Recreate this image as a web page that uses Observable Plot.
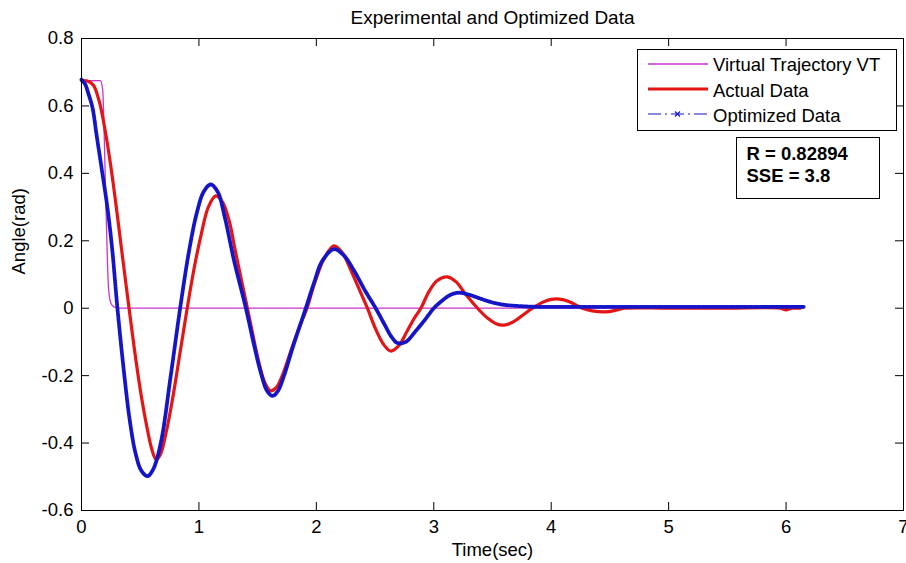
<!DOCTYPE html>
<html>
<head>
<meta charset="utf-8">
<script src="https://cdn.jsdelivr.net/npm/d3@7"></script>
<script src="https://cdn.jsdelivr.net/npm/@observablehq/plot@0.6"></script>
<style>
  html, body { margin: 0; padding: 0; background: #ffffff; }
  #chart { width: 906px; height: 563px; }
</style>
</head>
<body>
<div id="chart"></div>
<script>
// ---- Data ----
const titleText = "Experimental and Optimized Data";
const xLabel = "Time(sec)";
const yLabel = "Angle(rad)";
const xTicks = [0, 1, 2, 3, 4, 5, 6, 7];
const yTicks = [-0.6, -0.4, -0.2, 0, 0.2, 0.4, 0.6, 0.8];
const seriesNames = ["Virtual Trajectory VT", "Actual Data", "Optimized Data"];
const statLines = ["R = 0.82894", "SSE = 3.8"];

const vtTime  = [0, 0.16, 0.18, 0.19, 0.20, 0.21, 0.22, 0.23, 0.25, 0.28, 0.32, 6.15];
const vtAngle = [0.675, 0.675, 0.65, 0.56, 0.42, 0.28, 0.15, 0.06, 0.015, 0.003, 0, 0];

const actTime  = [0, 0.05, 0.1, 0.15, 0.2, 0.25, 0.3, 0.35, 0.405, 0.45, 0.5, 0.55, 0.6, 0.635, 0.67, 0.72, 0.78, 0.84, 0.9, 0.96,
                  1.02, 1.08, 1.143, 1.2, 1.257, 1.31, 1.37, 1.413, 1.46, 1.51, 1.56, 1.61, 1.66, 1.71, 1.78, 1.85, 1.92, 1.99,
                  2.07, 2.15, 2.22, 2.3, 2.37, 2.435, 2.5, 2.57, 2.633, 2.7, 2.77, 2.83, 2.89, 2.96, 3.03, 3.115, 3.19, 3.27,
                  3.38, 3.46, 3.53, 3.6, 3.68, 3.76, 3.84, 3.93, 4.0, 4.07, 4.15, 4.265, 4.35, 4.46, 4.55, 4.62, 5.0, 5.5,
                  5.95, 6.0, 6.05, 6.12];
const actAngle = [0.675, 0.674, 0.662, 0.615, 0.53, 0.42, 0.29, 0.15, 0.0, -0.12, -0.24, -0.34, -0.42, -0.448, -0.435, -0.37, -0.26, -0.13, 0.0, 0.12,
                  0.22, 0.3, 0.333, 0.315, 0.26, 0.17, 0.07, 0.0, -0.08, -0.16, -0.22, -0.245, -0.235, -0.2, -0.13, -0.06, 0.0, 0.08,
                  0.15, 0.185, 0.165, 0.108, 0.052, 0.0, -0.058, -0.106, -0.127, -0.112, -0.07, -0.032, 0.0, 0.05, 0.082, 0.093, 0.078, 0.042,
                  -0.003, -0.03, -0.046, -0.05, -0.04, -0.02, 0.0, 0.018, 0.026, 0.027, 0.02, 0.0, -0.008, -0.011, -0.006, 0.0, 0.0, 0.0,
                  0.0, -0.005, 0.0, 0.0];

const optTime  = [0, 0.03, 0.06, 0.094, 0.13, 0.178, 0.22, 0.26, 0.306, 0.365, 0.41, 0.46, 0.51, 0.562, 0.61, 0.675, 0.76, 0.84, 0.916, 0.98,
                  1.04, 1.10, 1.16, 1.22, 1.3, 1.40, 1.47, 1.53, 1.58, 1.626, 1.67, 1.72, 1.8, 1.91, 1.98, 2.05, 2.15, 2.23, 2.32, 2.41,
                  2.505, 2.58, 2.64, 2.69, 2.76, 2.85, 2.93, 3.0, 3.08, 3.15, 3.215, 3.3, 3.4, 3.5, 3.6, 3.7, 3.8, 3.9, 4.0, 5.0, 6.15];
const optAngle = [0.678, 0.665, 0.635, 0.594, 0.51, 0.4, 0.3, 0.18, 0.0, -0.2, -0.33, -0.43, -0.482, -0.498, -0.478, -0.4, -0.2, 0.0, 0.17, 0.28,
                  0.345, 0.367, 0.345, 0.27, 0.14, 0.0, -0.11, -0.195, -0.245, -0.26, -0.247, -0.205, -0.115, 0.0, 0.075, 0.14, 0.175, 0.158, 0.112, 0.055,
                  0.0, -0.048, -0.085, -0.103, -0.1, -0.066, -0.032, 0.0, 0.025, 0.041, 0.046, 0.04, 0.028, 0.017, 0.01, 0.007, 0.005, 0.004, 0.004, 0.004, 0.004];

const colors = ["#cc33cc", "#e31515", "#1515c8"];

// ---- Build tables ----
const toRows = (ts, vs) => ts.map((t, i) => ({t, v: vs[i]}));
const vt = toRows(vtTime, vtAngle);
const act = toRows(actTime, actAngle);
const opt = toRows(optTime, optAngle);

const W = 906, H = 563;
const mL = 81, mR = 3, mT = 38, mB = 53;
const fw = W - mL - mR, fh = H - mT - mB;
const tick = 8;
const font = "'Liberation Sans', Arial, Helvetica, sans-serif";
const fmt = d => String(d);

const chart = Plot.plot({
  width: W, height: H,
  marginLeft: mL, marginRight: mR, marginTop: mT, marginBottom: mB,
  style: {fontFamily: font, fontSize: "18.5px", color: "#000", background: "#fff", overflow: "visible"},
  x: {domain: [0, 7]},
  y: {domain: [-0.6, 0.8]},
  marks: [
    Plot.line(vt, {x: "t", y: "v", stroke: colors[0], strokeWidth: 1.3, curve: "monotone-x"}),
    Plot.line(act, {x: "t", y: "v", stroke: colors[1], strokeWidth: 3.2, curve: "catmull-rom"}),
    Plot.line(opt, {x: "t", y: "v", stroke: colors[2], strokeWidth: 1.1, curve: "catmull-rom"}),
    Plot.line(opt, {x: "t", y: "v", stroke: colors[2], strokeWidth: 3.8, strokeDasharray: "1.2 1.2", curve: "catmull-rom"}),
    Plot.frame({stroke: "#000", strokeWidth: 1}),
    // inward ticks on all four sides
    Plot.ruleX(xTicks, {x: d => d, insetTop: fh - tick, stroke: "#000"}),
    Plot.ruleX(xTicks, {x: d => d, insetBottom: fh - tick, stroke: "#000"}),
    Plot.ruleY(yTicks, {y: d => d, insetRight: fw - tick, stroke: "#000"}),
    Plot.ruleY(yTicks, {y: d => d, insetLeft: fw - tick, stroke: "#000"}),
    Plot.axisX(xTicks, {tickSize: 0, tickPadding: 9, tickFormat: fmt, label: null, fontSize: 18.5}),
    Plot.axisY(yTicks, {tickSize: 0, tickPadding: 8, tickFormat: fmt, label: null, fontSize: 18.5}),
    Plot.text([xLabel], {text: d => d, frameAnchor: "bottom", lineAnchor: "bottom", dy: 45, fontSize: 18.5}),
    Plot.text([yLabel], {text: d => d, frameAnchor: "left", rotate: -90, dx: -62, fontSize: 18.5}),
    Plot.text([titleText], {text: d => d, frameAnchor: "top", lineAnchor: "bottom", dy: -15, fontSize: 19})
  ]
});

document.getElementById("chart").appendChild(chart);

// ---- Legend box and statistics box ----
const svg = d3.select(chart);
const lg = svg.append("g").attr("font-family", font).attr("font-size", 18.5).attr("text-anchor", "start");
lg.append("rect").attr("x", 637.5).attr("y", 49.5).attr("width", 259).attr("height", 81)
  .attr("fill", "#fff").attr("stroke", "#000").attr("stroke-width", 1);
const rowsY = [64, 89, 114];
const baseY = [70.5, 96.5, 121.5];
lg.append("line").attr("x1", 648).attr("x2", 708).attr("y1", rowsY[0]).attr("y2", rowsY[0])
  .attr("stroke", colors[0]).attr("stroke-width", 1.3);
lg.append("line").attr("x1", 648).attr("x2", 708).attr("y1", rowsY[1]).attr("y2", rowsY[1])
  .attr("stroke", colors[1]).attr("stroke-width", 3.2);
lg.append("line").attr("x1", 648).attr("x2", 708).attr("y1", rowsY[2]).attr("y2", rowsY[2])
  .attr("stroke", colors[2]).attr("stroke-width", 1.2).attr("stroke-dasharray", "13 4 2 4");
lg.append("path").attr("d", `M675,${rowsY[2]-2.5}L680,${rowsY[2]+2.5}M675,${rowsY[2]+2.5}L680,${rowsY[2]-2.5}`)
  .attr("stroke", colors[2]).attr("stroke-width", 1.2);
seriesNames.forEach((name, i) => {
  lg.append("text").attr("x", 713).attr("y", baseY[i]).attr("fill", "#000").attr("text-anchor", "start").text(name);
});

const sg = svg.append("g").attr("font-family", font).attr("font-size", 18.5).attr("font-weight", "bold").attr("text-anchor", "start");
sg.append("rect").attr("x", 736.5).attr("y", 137.5).attr("width", 143).attr("height", 61)
  .attr("fill", "#fff").attr("stroke", "#000").attr("stroke-width", 1);
statLines.forEach((s, i) => {
  sg.append("text").attr("x", 746.5).attr("y", [160, 181.5][i]).attr("fill", "#000").attr("text-anchor", "start").text(s);
});
</script>
</body>
</html>
